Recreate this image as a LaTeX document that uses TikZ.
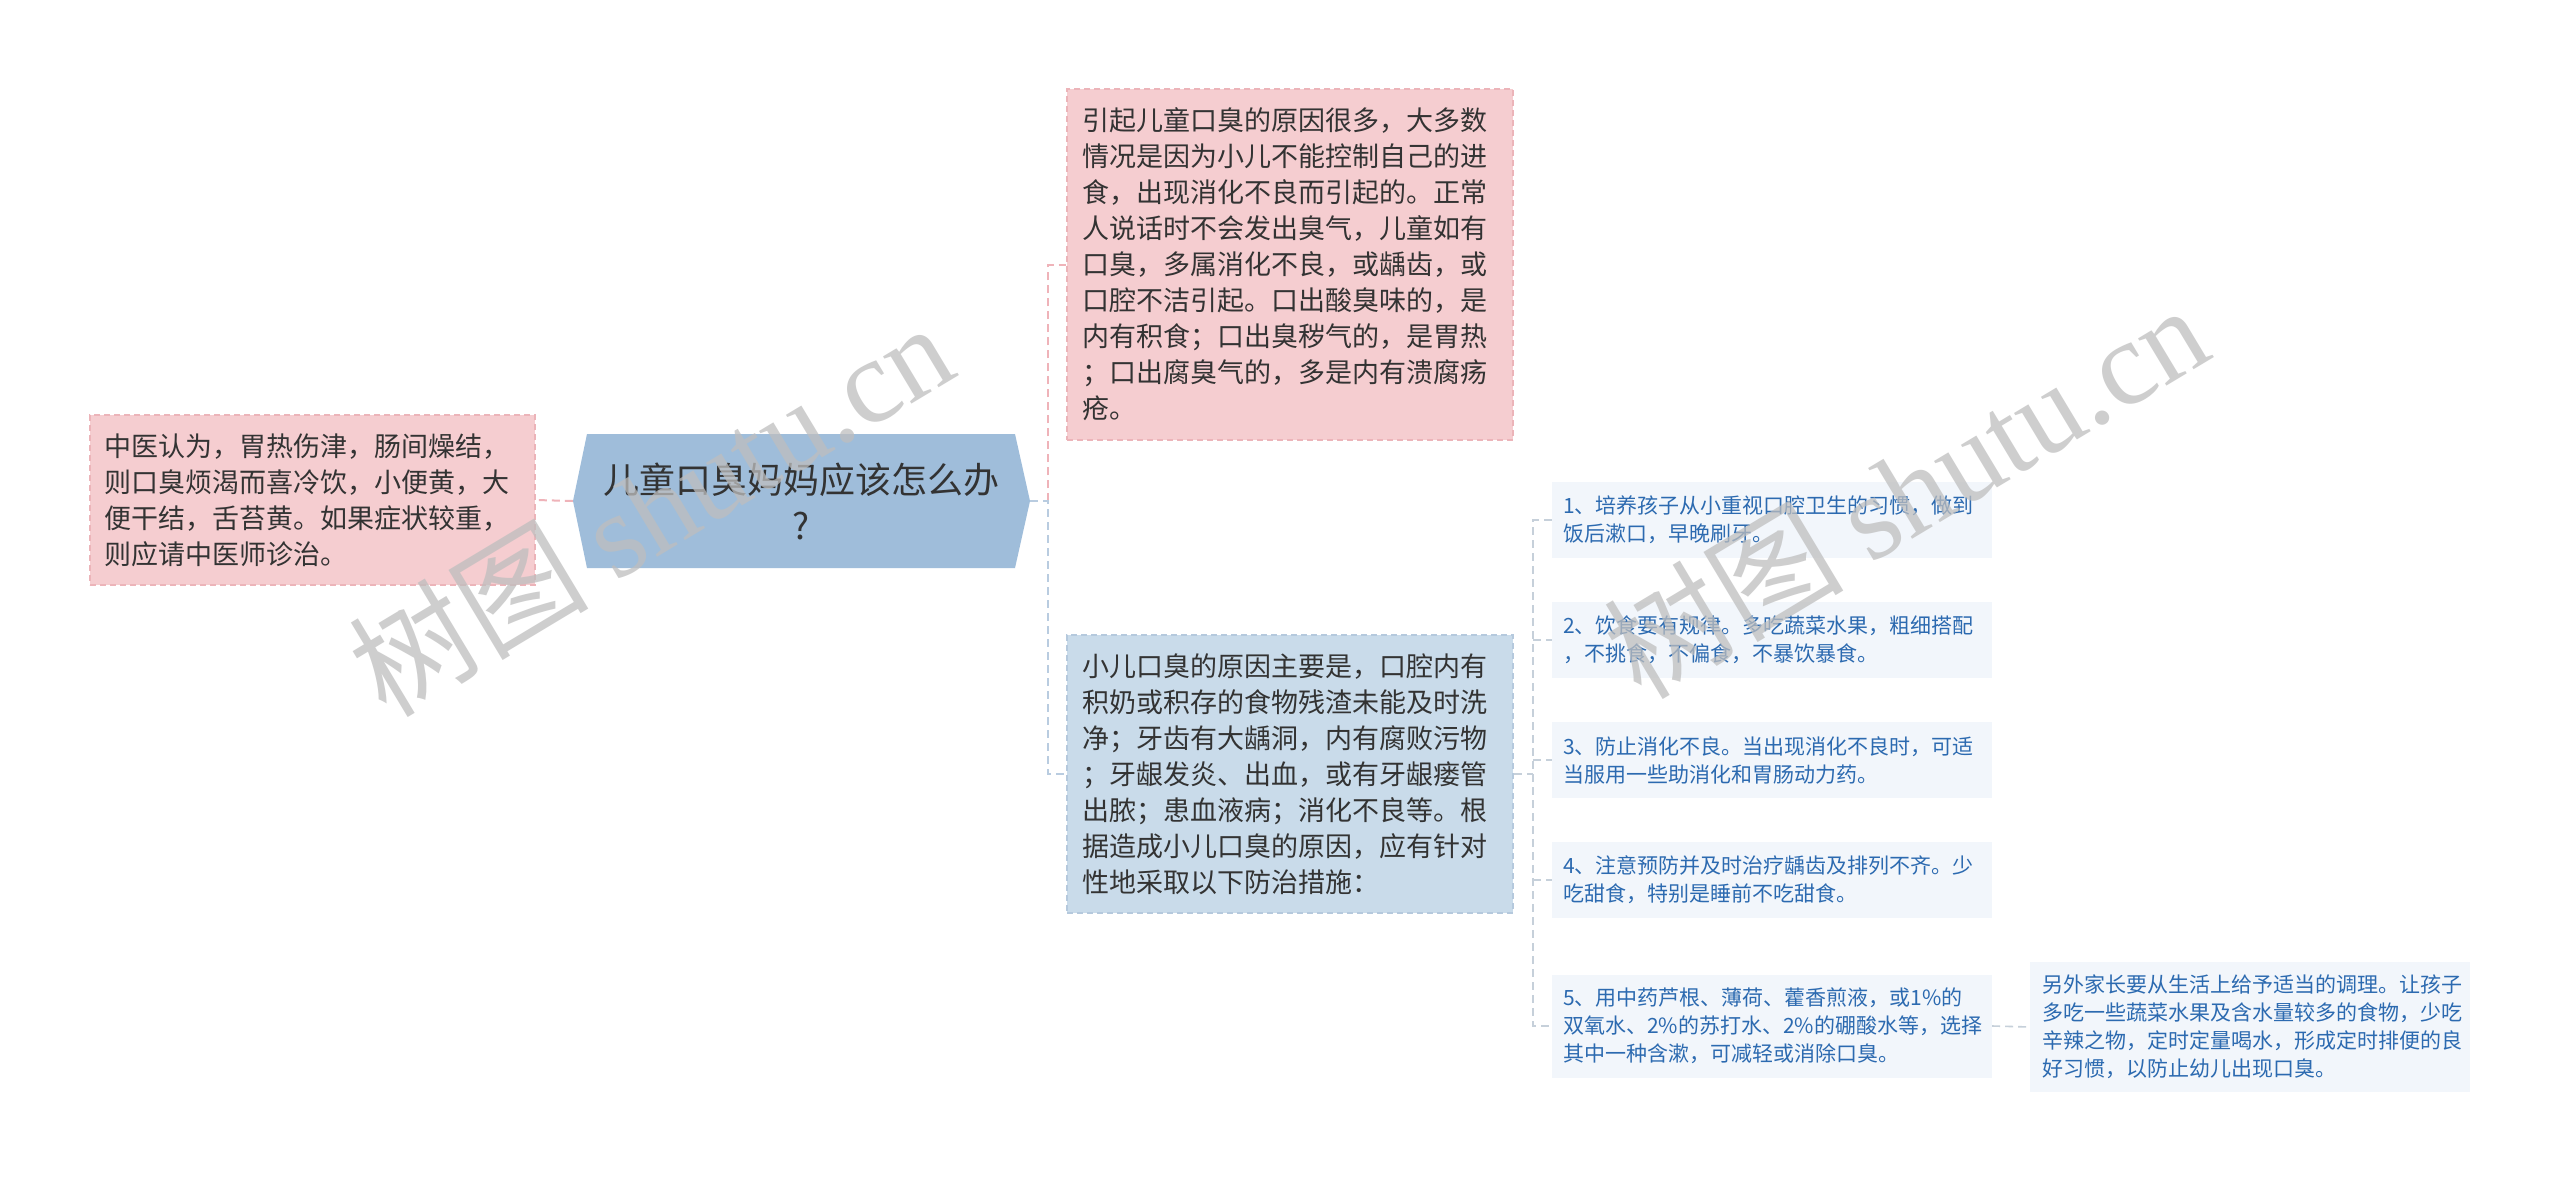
\documentclass[tikz,border=0pt]{standalone}
\usepackage{fontspec}
\setmainfont{Noto Sans CJK SC}
\newfontfamily\wmlatin{Liberation Serif}
\usetikzlibrary{calc}
\definecolor{pinkfill}{HTML}{F5CDD0}
\definecolor{pinkline}{HTML}{ECB4B9}
\definecolor{pinkconn}{HTML}{EFB3B9}
\definecolor{bluefill}{HTML}{C9DBEA}
\definecolor{blueline}{HTML}{B5C9DD}
\definecolor{blueconn}{HTML}{B9CCE0}
\definecolor{centerfill}{HTML}{9FBDDA}
\definecolor{leaffill}{HTML}{F2F6FB}
\definecolor{leaftext}{HTML}{2C6AB0}
\definecolor{grayconn}{HTML}{C6D0DA}
\definecolor{textcol}{HTML}{333333}
\definecolor{wmcol}{HTML}{BEBEBE}
\tikzset{
  bigtext/.style={font=\fontsize{27}{36}\selectfont, text=textcol},
  smalltext/.style={font=\fontsize{21}{28}\selectfont, text=leaftext},
  pinkbox/.style={rectangle, fill=pinkfill, draw=pinkline, line width=1.5pt, dash pattern=on 6pt off 4pt, align=left, inner ysep=0pt, bigtext},
  bluebox/.style={rectangle, fill=bluefill, draw=blueline, line width=1.5pt, dash pattern=on 6pt off 4pt, align=left, inner ysep=0pt, bigtext},
  leafbox/.style={rectangle, fill=leaffill, align=left, inner xsep=11pt, inner ysep=0pt, text width=418pt, minimum height=76pt, smalltext},
  pinkwire/.style={draw=pinkconn, line width=2pt, dash pattern=on 8pt off 5pt},
  bluewire/.style={draw=blueconn, line width=2pt, dash pattern=on 8pt off 5pt},
  graywire/.style={draw=grayconn, line width=1.6pt, dash pattern=on 8pt off 5pt},
  wmark/.style={text=wmcol, opacity=0.75, font=\fontsize{120}{120}\selectfont, inner sep=0pt},
}
\begin{document}
\begin{tikzpicture}[x=1pt,y=-1pt]
\useasboundingbox (0,0) rectangle (2560,1181);
\fill[white] (0,0) rectangle (2560,1181);

% central hexagon
\fill[centerfill] (573,501) -- (587,434) -- (1015,434) -- (1030,501) -- (1015,568) -- (587,568) -- cycle;
\node[rectangle, minimum width=457pt, minimum height=134pt, inner sep=0pt, align=center,
      font=\fontsize{36}{46}\selectfont, text=textcol] (C) at (801.5,501) {儿童口臭妈妈应该怎么办\\?};

% left box
\node[pinkbox, inner xsep=14pt, text width=417pt, minimum height=170pt] (L) at (312.5,500) {中医认为，胃热伤津，肠间燥结，\\则口臭烦渴而喜冷饮，小便黄，大\\便干结，舌苔黄。如果症状较重，\\则应请中医师诊治。};

% top right pink box
\node[pinkbox, inner xsep=15pt, text width=416pt, minimum height=351pt] (T) at (1290,264.5) {引起儿童口臭的原因很多，大多数\\情况是因为小儿不能控制自己的进\\食，出现消化不良而引起的。正常\\人说话时不会发出臭气，儿童如有\\口臭，多属消化不良，或龋齿，或\\口腔不洁引起。口出酸臭味的，是\\内有积食；口出臭秽气的，是胃热\\；口出腐臭气的，多是内有溃腐疡\\疮。};

% blue box
\node[bluebox, inner xsep=15pt, text width=416pt, minimum height=278pt] (B) at (1290,774) {小儿口臭的原因主要是，口腔内有\\积奶或积存的食物残渣未能及时洗\\净；牙齿有大龋洞，内有腐败污物\\；牙龈发炎、出血，或有牙龈瘘管\\出脓；患血液病；消化不良等。根\\据造成小儿口臭的原因，应有针对\\性地采取以下防治措施：};

% leaves
\node[leafbox] (l1) at (1772,520) {1、培养孩子从小重视口腔卫生的习惯，做到\\饭后漱口，早晚刷牙。};
\node[leafbox] (l2) at (1772,640) {2、饮食要有规律。多吃蔬菜水果，粗细搭配\\，不挑食，不偏食，不暴饮暴食。};
\node[leafbox] (l3) at (1772,760) {3、防止消化不良。当出现消化不良时，可适\\当服用一些助消化和胃肠动力药。};
\node[leafbox] (l4) at (1772,880) {4、注意预防并及时治疗龋齿及排列不齐。少\\吃甜食，特别是睡前不吃甜食。};
\node[leafbox, minimum height=103pt] (l5) at (1772,1026) {5、用中药芦根、薄荷、藿香煎液，或1\%的\\双氧水、2\%的苏打水、2\%的硼酸水等，选择\\其中一种含漱，可减轻或消除口臭。};

% far right
\node[leafbox, inner xsep=12pt, text width=416pt, minimum height=130pt] (R) at (2250,1027) {另外家长要从生活上给予适当的调理。让孩子\\多吃一些蔬菜水果及含水量较多的食物，少吃\\辛辣之物，定时定量喝水，形成定时排便的良\\好习惯，以防止幼儿出现口臭。};

% junctions
\coordinate (j1) at (1048,501);
\coordinate (j2) at (1533,774);

% connectors
\draw[pinkwire] (C.west) -- (L.east);
\draw[pinkwire] (j1) -- (T.west -| j1) -- (T.west);
\draw[bluewire] (C.east) -- (j1) -- (B.west -| j1) -- (B.west);
\draw[graywire] (B.east) -- (j2);
\draw[graywire] (l1.west) -- (l1.west -| j2) -- (l5.west -| j2) -- (l5.west);
\draw[graywire] (l2.west -| j2) -- (l2.west);
\draw[graywire] (l3.west -| j2) -- (l3.west);
\draw[graywire] (l4.west -| j2) -- (l4.west);
\draw[graywire] (l5.east) -- (R.west);

% watermarks
\node[wmark, rotate=31] (w1) at (650,508) {树图 {\wmlatin shutu.cn}};
\node[wmark, rotate=31] (w2) at (1905,490) {树图 {\wmlatin shutu.cn}};
\end{tikzpicture}
\end{document}
